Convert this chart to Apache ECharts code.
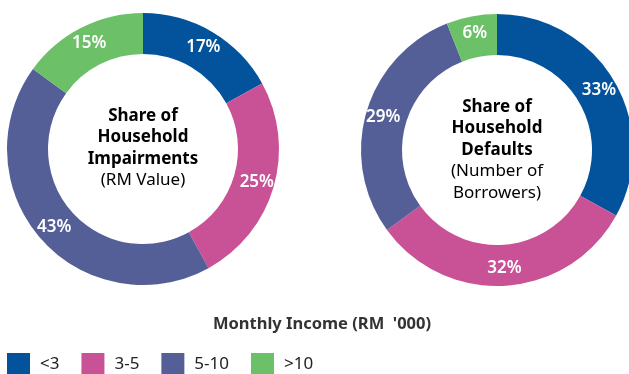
<!DOCTYPE html>
<html>
<head>
<meta charset="utf-8">
<script src="https://cdn.jsdelivr.net/npm/echarts@6/dist/echarts.min.js"></script>
<style>
  html, body { margin: 0; padding: 0; background: #fff; }
  #chart { width: 629px; height: 374px; }
</style>
</head>
<body>
<div id="chart"></div>
<script>
// Income bands (RM '000 per month)
const incomeBands = ['<3', '3-5', '5-10', '>10'];
// Share of household impairments by RM value (%)
const impairmentShare = [17, 25, 43, 15];
// Share of household defaults by number of borrowers (%)
const defaultShare = [33, 32, 29, 6];
const bandColors = ['#03529C', '#C95195', '#545E97', '#6CC067'];

const FONT = 'Noto Sans';

function toPieData(values) {
  return incomeBands.map((name, i) => ({ name: name, value: values[i] }));
}

function donut(center, values) {
  return {
    type: 'pie',
    center: center,
    radius: [95, 136],
    startAngle: 90,
    clockwise: true,
    avoidLabelOverlap: false,
    silent: true,
    label: {
      show: true,
      position: 'inside',
      formatter: '{c}%',
      color: '#fff',
      fontFamily: FONT,
      fontSize: 17,
      fontWeight: 600
    },
    labelLine: { show: false },
    itemStyle: { borderWidth: 0 },
    data: toPieData(values)
  };
}

const chart = echarts.init(document.getElementById('chart'), null, { renderer: 'canvas' });

const centerRich = {
  b: { fontFamily: FONT, fontSize: 17, fontWeight: 'bold', color: '#111', lineHeight: 21.5 },
  n: { fontFamily: FONT, fontSize: 17, fontWeight: 'normal', color: '#111', lineHeight: 21.5 }
};

chart.setOption({
  animation: false,
  color: bandColors,
  legend: {
    left: 7,
    top: 353,
    padding: 0,
    orient: 'horizontal',
    icon: 'rect',
    itemWidth: 23,
    itemHeight: 22,
    itemGap: 22,
    selectedMode: false,
    data: incomeBands,
    textStyle: { fontFamily: FONT, fontSize: 17, color: '#222', padding: [0, 0, 0, 5] }
  },
  graphic: [
    {
      type: 'text',
      x: 143, y: 148,
      style: {
        text: '{b|Share of}\n{b|Household}\n{b|Impairments}\n{n|(RM Value)}',
        rich: centerRich,
        align: 'center',
        verticalAlign: 'middle'
      }
    },
    {
      type: 'text',
      x: 497, y: 150,
      style: {
        text: '{b|Share of}\n{b|Household}\n{b|Defaults}\n{n|(Number of}\n{n|Borrowers)}',
        rich: centerRich,
        align: 'center',
        verticalAlign: 'middle'
      }
    },
    {
      type: 'text',
      x: 322, y: 324,
      style: {
        text: "Monthly Income (RM  '000)",
        fontFamily: FONT,
        fontSize: 16.5,
        fontWeight: 'bold',
        fill: '#333',
        align: 'center',
        verticalAlign: 'middle'
      }
    }
  ],
  series: [
    donut([143, 149], impairmentShare),
    donut([497, 150], defaultShare)
  ]
});
</script>
</body>
</html>
